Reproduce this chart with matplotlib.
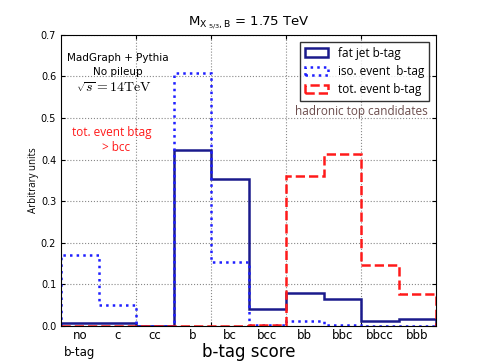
import matplotlib
matplotlib.use('Agg')
import matplotlib.pyplot as plt
import numpy as np

# b-tag score categories
categories = ['no\nb-tag', 'c', 'cc', 'b', 'bc', 'bcc', 'bb', 'bbc', 'bbcc', 'bbb']

# normalised fractions
fat_jet = [0.008, 0.006, 0.001, 0.422, 0.354, 0.040, 0.079, 0.065, 0.011, 0.016]
iso_event = [0.171, 0.051, 0.001, 0.609, 0.153, 0.003, 0.012, 0.002, 0.0, 0.0]
tot_event = [0.0, 0.0, 0.0, 0.0, 0.0, 0.003, 0.361, 0.414, 0.147, 0.077]

yticks = [0.0, 0.1, 0.2, 0.3, 0.4, 0.5, 0.6, 0.7]

fig = plt.figure(figsize=(4.85, 3.63), dpi=100)
ax = fig.add_axes([0.126, 0.102, 0.773, 0.802])

x = np.arange(len(categories))
bins = np.arange(len(categories) + 1)

ax.hist(x, bins=bins, weights=fat_jet, histtype='step', color='#1a1a8c',
        linewidth=1.8, label='fat jet b-tag')
ax.hist(x, bins=bins, weights=iso_event, histtype='step', color='#1f1fff',
        linewidth=1.8, linestyle=':', label='iso. event  b-tag')
ax.hist(x, bins=bins, weights=tot_event, histtype='step', color='#ff1a1a',
        linewidth=1.8, linestyle='--', label='tot. event b-tag')

ax.set_xlim(0, 10)
ax.set_ylim(0, 0.7)
ax.set_yticks(yticks)
ax.set_yticklabels(['%.1f' % v for v in yticks], fontsize=7)
ax.set_xticks([2, 4, 6, 8])
ax.set_xticklabels([])
ax.tick_params(direction='in', top=True, right=True, length=3)
ax.grid(True, linestyle=':', color='#888888', linewidth=0.8)

for i, c in enumerate(categories):
    ax.text(i + 0.5, -0.008, c, ha='center', va='top', fontsize=8.5,
            linespacing=1.35)

ax.text(5, -0.063, 'b-tag score', ha='center', va='center', fontsize=12)
ax.set_ylabel('Arbitrary units', fontsize=7, family='Open Sans')
ax.yaxis.set_label_coords(-0.06, 0.5)

ax.set_title(r'M$_{\mathrm{X}_{\ 5/3},\mathrm{B}}$ = 1.75 TeV', fontsize=9.5, pad=7)

ax.text(1.52, 0.645, 'MadGraph + Pythia', ha='center', va='center', fontsize=7.5)
ax.text(1.52, 0.611, 'No pileup', ha='center', va='center', fontsize=7.5)
ax.text(1.4, 0.572, r'$\sqrt{s} = 14\mathrm{TeV}$', ha='center', va='center',
        fontsize=10, math_fontfamily='cm')
ax.text(1.36, 0.464, 'tot. event btag', ha='center', va='center',
        fontsize=8.5, color='#ff1a1a', family='Open Sans')
ax.text(1.47, 0.428, '> bcc', ha='center', va='center',
        fontsize=8.5, color='#ff1a1a', family='Open Sans')
ax.text(8.0, 0.515, 'hadronic top candidates', ha='center', va='center',
        fontsize=8.5, color='#6b4c4c', family='Open Sans')

leg = ax.legend(loc='upper right', fontsize=8.5, frameon=True, fancybox=False,
                borderaxespad=0.6, handlelength=2.0, handletextpad=0.8,
                labelspacing=0.45, borderpad=0.4)
leg.get_frame().set_edgecolor('black')
leg.get_frame().set_linewidth(1.0)
for t in leg.get_texts():
    t.set_family('Open Sans')

plt.savefig('out.png', dpi=100)
